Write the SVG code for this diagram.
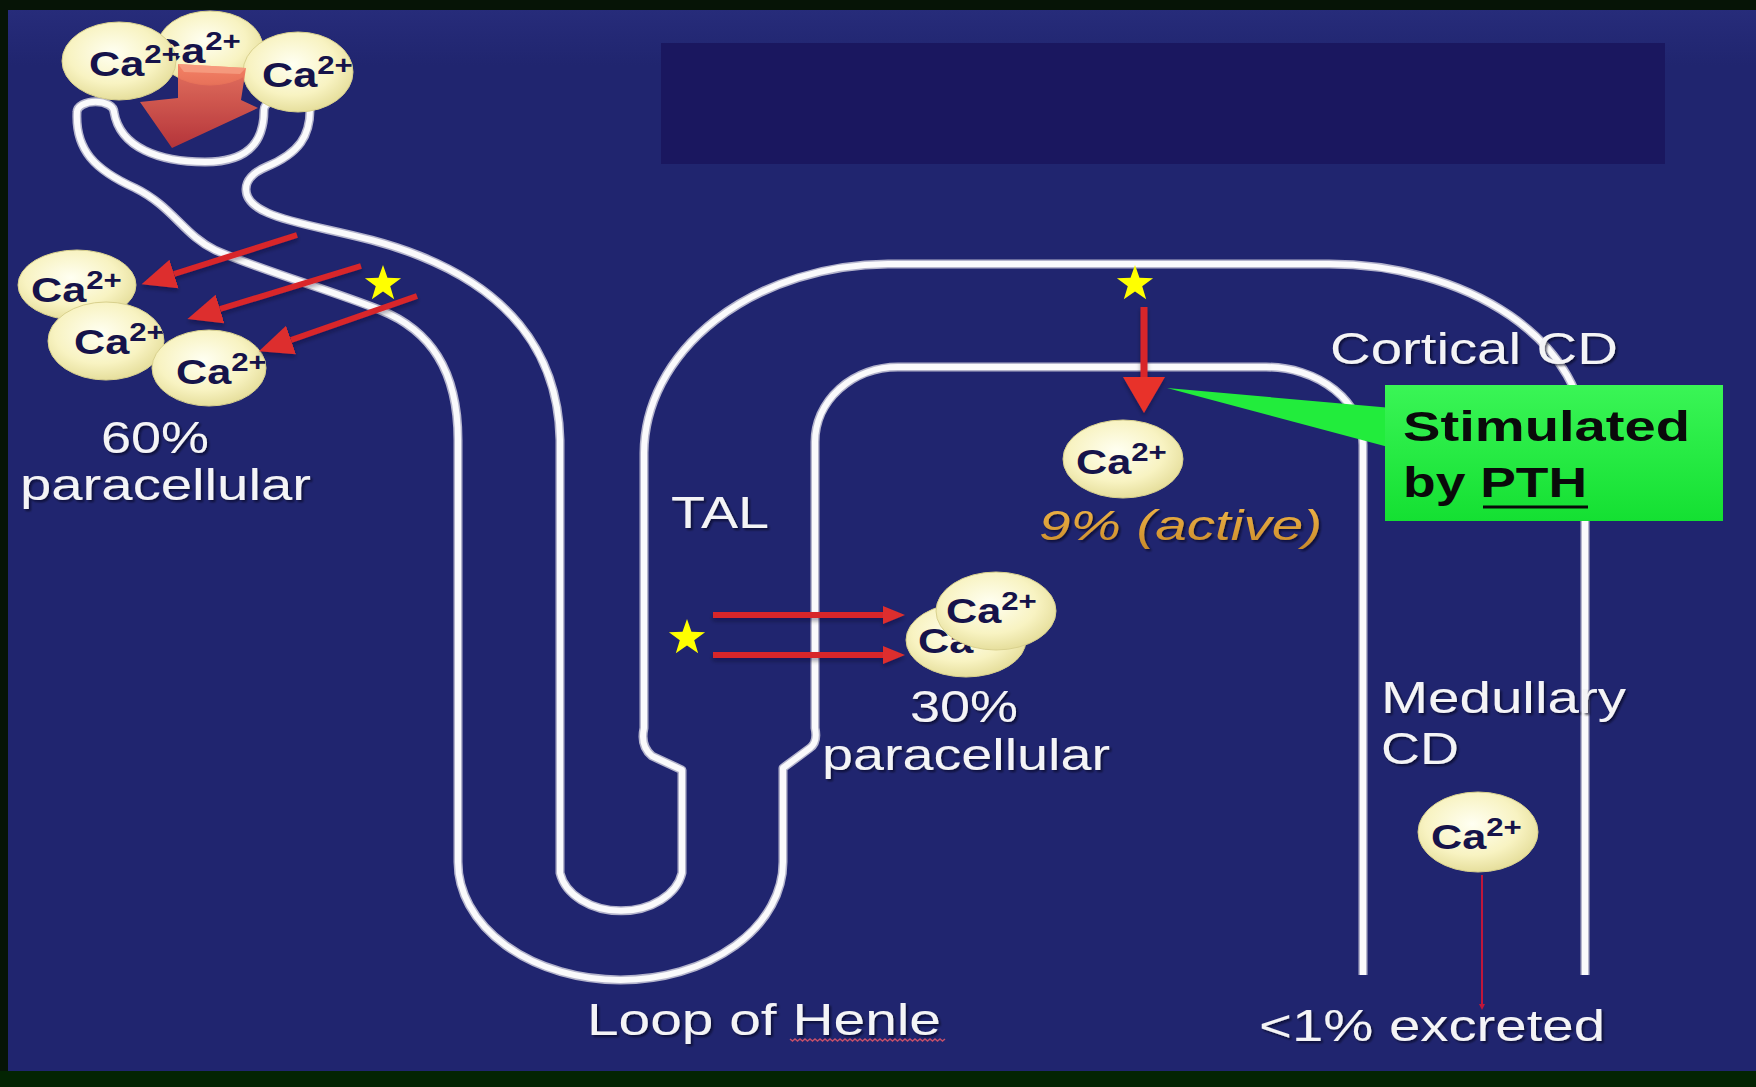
<svg xmlns="http://www.w3.org/2000/svg" width="1756" height="1087" viewBox="0 0 1756 1087">
  <defs>
    <style>
      .tube-edge { fill: none; stroke: #b4b4cc; stroke-width: 9; stroke-linejoin: round; }
      .tube { fill: none; stroke: #fafafc; stroke-width: 6; stroke-linejoin: round; }
      .ion { fill: url(#ionFill); stroke: #d9d18e; stroke-width: 1; }
      .ca { font-family: "Liberation Sans", Arial, sans-serif; font-weight: bold; font-size: 36px; fill: #16134a; }
      .sup { font-size: 26px; }
      .lbl { font-family: "Liberation Sans", Arial, sans-serif; font-size: 44px; fill: #f4f4f6; filter: url(#txtShadow); }
      .active { font-family: "Liberation Sans", Arial, sans-serif; font-style: italic; font-size: 43px; fill: url(#goldFill); filter: url(#txtShadow); }
      .pth { font-family: "Liberation Sans", Arial, sans-serif; font-weight: bold; font-size: 42px; fill: #0a0a0a; }
      .shaft { stroke: #d8262a; fill: none; stroke-linecap: butt; }
      .star { fill: #ffff00; }
    </style>
    <radialGradient id="ionFill" cx="0.45" cy="0.4" r="0.65">
      <stop offset="0" stop-color="#fffff2"/>
      <stop offset="0.6" stop-color="#f8f3c2"/>
      <stop offset="1" stop-color="#e2da94"/>
    </radialGradient>
    <linearGradient id="goldFill" x1="0" y1="0" x2="0" y2="1">
      <stop offset="0" stop-color="#f2b84a"/>
      <stop offset="1" stop-color="#c98a2a"/>
    </linearGradient>
    <linearGradient id="greenFill" x1="0" y1="0" x2="0" y2="1">
      <stop offset="0" stop-color="#3af556"/>
      <stop offset="1" stop-color="#14e032"/>
    </linearGradient>
    <linearGradient id="blockArrow" x1="0" y1="0" x2="0" y2="1">
      <stop offset="0" stop-color="#f4795e"/>
      <stop offset="1" stop-color="#c23636"/>
    </linearGradient>
    <linearGradient id="bg" x1="0" y1="0" x2="0" y2="1">
      <stop offset="0" stop-color="#282d7c"/>
      <stop offset="0.06" stop-color="#20256f"/>
      <stop offset="1" stop-color="#20256f"/>
    </linearGradient>
    <filter id="txtShadow" x="-5%" y="-10%" width="110%" height="130%">
      <feDropShadow dx="2" dy="2" stdDeviation="1" flood-color="#000010" flood-opacity="0.6"/>
    </filter>
    <filter id="arrowShadow" filterUnits="userSpaceOnUse" x="0" y="0" width="1756" height="1087">
      <feDropShadow dx="0" dy="3" stdDeviation="2" flood-color="#000020" flood-opacity="0.35"/>
    </filter>
    <marker id="headL" markerUnits="userSpaceOnUse" markerWidth="36" markerHeight="32" viewBox="0 -16 36 32" refX="0" refY="0" orient="auto">
      <path d="M0 -15 L34 0 L0 15 Z" fill="#dd2e2e"/>
    </marker>
    <marker id="headS" markerUnits="userSpaceOnUse" markerWidth="24" markerHeight="20" viewBox="0 -10 24 20" refX="0" refY="0" orient="auto">
      <path d="M0 -9 L22 0 L0 9 Z" fill="#dd2e2e"/>
    </marker>
    <marker id="headV" markerUnits="userSpaceOnUse" markerWidth="38" markerHeight="44" viewBox="0 -22 38 44" refX="0" refY="0" orient="auto">
      <path d="M0 -21 L36 0 L0 21 Z" fill="#e8322c"/>
    </marker>
    <marker id="headT" markerUnits="userSpaceOnUse" markerWidth="8" markerHeight="8" viewBox="0 -4 8 8" refX="0" refY="0" orient="auto">
      <path d="M0 -3 L6 0 L0 3 Z" fill="#c0163a"/>
    </marker>
    <polygon id="starShape" points="0,-19 4.47,-6.15 18.07,-5.87 7.23,2.35 11.17,15.37 0,7.6 -11.17,15.37 -7.23,2.35 -18.07,-5.87 -4.47,-6.15"/>
    <!-- nephron wall: one continuous line from the cortical CD back round to the medullary CD -->
    <path id="tubulePath" d="M1585 975 V440 A256 176 0 0 0 1329 264 H888 A246 190 0 0 0 644 453 V728 Q640 746 652 756 L682 770 V873 A62 46 0 0 1 560 873 V440 C558 345 500 288 420 256 C360 232 302 228 268 213 C238 200 240 178 266 167 C300 153 310 135 310 110 A23 12 0 0 0 264 110 C264 145 245 162 205 162 C160 162 120 148 114 112 A18 10 0 0 0 77 112 C75 150 95 170 135 188 C172 206 185 236 215 250 C260 270 330 290 380 310 C430 330 458 370 458 440 V862 A162.5 118 0 0 0 783 862 V768 L810 748 Q818 742 815 728 V442 A83 75 0 0 1 898 367 H1266 A97 78 0 0 1 1363 445 V975"/>
    <clipPath id="clipE3"><ellipse cx="298" cy="72" rx="55" ry="40"/></clipPath>
    <clipPath id="clipP2"><ellipse cx="106" cy="341" rx="58" ry="39"/></clipPath>
    <clipPath id="clipP3"><ellipse cx="209" cy="368" rx="57" ry="38"/></clipPath>
  </defs>

  <!-- slide background and frame -->
  <rect x="0" y="0" width="1756" height="1087" fill="url(#bg)"/>
  <rect x="0" y="0" width="1756" height="10" fill="#061406"/>
  <rect x="0" y="0" width="8" height="1087" fill="#061406"/>
  <rect x="0" y="1071" width="1756" height="16" fill="#032403"/>
  <rect x="661" y="43" width="1004" height="121" fill="#1a175f"/>

  <g id="tubule">
    <use href="#tubulePath" class="tube-edge"/>
    <use href="#tubulePath" class="tube"/>
  </g>

  <!-- glomerular filtrate -->
  <g id="ion-glom-2">
    <ellipse class="ion" cx="210" cy="48" rx="53" ry="37"/>
    <text class="ca" transform="translate(150 63) scale(1.2 1)">Ca<tspan class="sup" dy="-13">2+</tspan></text>
  </g>
  <g id="ion-glom-1">
    <ellipse class="ion" cx="119" cy="61" rx="57" ry="39"/>
    <text class="ca" transform="translate(89 76) scale(1.2 1)">Ca<tspan class="sup" dy="-13">2+</tspan></text>
  </g>
  <g id="ion-glom-3">
    <ellipse class="ion" cx="298" cy="72" rx="55" ry="40"/>
    <g clip-path="url(#clipE3)">
      <text class="ca" transform="translate(262 87) scale(1.2 1)">Ca<tspan class="sup" dy="-13">2+</tspan></text>
    </g>
  </g>
  <g id="filtration-arrow" opacity="0.92">
    <polygon points="178,64 246,68 241,100 258,108 172,148 140,102 178,98" fill="url(#blockArrow)"/>
    <polygon points="178,64 246,68 240,74 184,72" fill="#f79a80" opacity="0.8"/>
  </g>

  <!-- proximal tubule reabsorption -->
  <g id="ion-pct-1">
    <ellipse class="ion" cx="77" cy="285" rx="59" ry="35"/>
    <text class="ca" transform="translate(31 302) scale(1.2 1)">Ca<tspan class="sup" dy="-13">2+</tspan></text>
  </g>
  <g id="ion-pct-2">
    <ellipse class="ion" cx="106" cy="341" rx="58" ry="39"/>
    <g clip-path="url(#clipP2)">
      <text class="ca" transform="translate(74 354) scale(1.2 1)">Ca<tspan class="sup" dy="-13">2+</tspan></text>
    </g>
  </g>
  <g id="ion-pct-3">
    <ellipse class="ion" cx="209" cy="368" rx="57" ry="38"/>
    <g clip-path="url(#clipP3)">
      <text class="ca" transform="translate(176 384) scale(1.2 1)">Ca<tspan class="sup" dy="-13">2+</tspan></text>
    </g>
  </g>
  <g id="label-pct">
    <text class="lbl" x="101" y="453" textLength="108" lengthAdjust="spacingAndGlyphs">60%</text>
    <text class="lbl" x="20" y="500" textLength="291" lengthAdjust="spacingAndGlyphs">paracellular</text>
  </g>

  <!-- thick ascending limb -->
  <g id="label-tal">
    <text class="lbl" x="671" y="528" textLength="98" lengthAdjust="spacingAndGlyphs">TAL</text>
  </g>
  <g id="ion-tal-1">
    <ellipse class="ion" cx="966" cy="640" rx="60" ry="37"/>
    <text class="ca" transform="translate(918 653) scale(1.2 1)">Ca<tspan class="sup" dy="-13">2+</tspan></text>
  </g>
  <g id="ion-tal-2">
    <ellipse class="ion" cx="996" cy="611" rx="60" ry="39"/>
    <text class="ca" transform="translate(946 623) scale(1.2 1)">Ca<tspan class="sup" dy="-13">2+</tspan></text>
  </g>
  <g id="label-tal-share">
    <text class="lbl" x="910" y="722" textLength="108" lengthAdjust="spacingAndGlyphs">30%</text>
    <text class="lbl" x="822" y="770" textLength="288" lengthAdjust="spacingAndGlyphs">paracellular</text>
  </g>

  <!-- distal / collecting duct -->
  <g id="label-cortical">
    <text class="lbl" x="1330" y="364" textLength="288" lengthAdjust="spacingAndGlyphs">Cortical CD</text>
  </g>
  <g id="ion-dct">
    <ellipse class="ion" cx="1123" cy="459" rx="60" ry="39"/>
    <text class="ca" transform="translate(1076 474) scale(1.2 1)">Ca<tspan class="sup" dy="-13">2+</tspan></text>
  </g>
  <g id="label-active">
    <text class="active" x="1039" y="540" textLength="283" lengthAdjust="spacingAndGlyphs">9% (active)</text>
  </g>
  <g id="label-medullary">
    <text class="lbl" x="1381" y="713" textLength="245" lengthAdjust="spacingAndGlyphs">Medullary</text>
    <text class="lbl" x="1381" y="764" textLength="78" lengthAdjust="spacingAndGlyphs">CD</text>
  </g>
  <g id="ion-urine">
    <ellipse class="ion" cx="1478" cy="832" rx="60" ry="40"/>
    <text class="ca" transform="translate(1431 849) scale(1.2 1)">Ca<tspan class="sup" dy="-13">2+</tspan></text>
  </g>
  <g id="label-excreted">
    <text class="lbl" x="1259" y="1041" textLength="346" lengthAdjust="spacingAndGlyphs">&lt;1% excreted</text>
  </g>
  <g id="label-loop">
    <text class="lbl" x="587" y="1035" textLength="354" lengthAdjust="spacingAndGlyphs">Loop of Henle</text>
    <!-- spell-check squiggle under "Henle" -->
    <path d="M790 1039 l2.5 2 l2.5 -2 l2.5 2 l2.5 -2 l2.5 2 l2.5 -2 l2.5 2 l2.5 -2 l2.5 2 l2.5 -2 l2.5 2 l2.5 -2 l2.5 2 l2.5 -2 l2.5 2 l2.5 -2 l2.5 2 l2.5 -2 l2.5 2 l2.5 -2 l2.5 2 l2.5 -2 l2.5 2 l2.5 -2 l2.5 2 l2.5 -2 l2.5 2 l2.5 -2 l2.5 2 l2.5 -2 l2.5 2 l2.5 -2 l2.5 2 l2.5 -2 l2.5 2 l2.5 -2 l2.5 2 l2.5 -2 l2.5 2 l2.5 -2 l2.5 2 l2.5 -2 l2.5 2 l2.5 -2 l2.5 2 l2.5 -2 l2.5 2 l2.5 -2 l2.5 2 l2.5 -2 l2.5 2 l2.5 -2 l2.5 2 l2.5 -2 l2.5 2 l2.5 -2 l2.5 2 l2.5 -2 l2.5 2 l2.5 -2 l2.5 2 l2.5 -2" fill="none" stroke="#c4506a" stroke-width="1.5"/>
  </g>

  <!-- PTH callout -->
  <g id="callout-pth">
    <polygon points="1167,388 1392,408 1392,448" fill="#22ec3c"/>
    <rect x="1385" y="385" width="338" height="136" fill="url(#greenFill)"/>
    <text class="pth" x="1403" y="441" textLength="287" lengthAdjust="spacingAndGlyphs">Stimulated</text>
    <text class="pth" x="1403" y="497" textLength="184" lengthAdjust="spacingAndGlyphs">by PTH</text>
    <line x1="1483" y1="507" x2="1588" y2="507" stroke="#0a0a0a" stroke-width="3"/>
  </g>

  <!-- transport arrows -->
  <g id="connectors" filter="url(#arrowShadow)">
    <line class="shaft" x1="297" y1="235" x2="174" y2="274" stroke-width="6" marker-end="url(#headL)"/>
    <line class="shaft" x1="361" y1="266" x2="220" y2="309" stroke-width="6" marker-end="url(#headL)"/>
    <line class="shaft" x1="417" y1="296" x2="291" y2="340" stroke-width="6" marker-end="url(#headL)"/>
    <line class="shaft" x1="713" y1="615" x2="883" y2="615" stroke-width="6" marker-end="url(#headS)"/>
    <line class="shaft" x1="713" y1="655" x2="883" y2="655" stroke-width="6" marker-end="url(#headS)"/>
    <line class="shaft" x1="1144" y1="307" x2="1144" y2="377" stroke-width="7" marker-end="url(#headV)"/>
  </g>
  <g id="excretion-connector">
    <line x1="1482" y1="875" x2="1482" y2="1004" stroke="#c0163a" stroke-width="2" marker-end="url(#headT)"/>
  </g>

  <!-- sites of regulation -->
  <g id="stars">
    <use href="#starShape" class="star" x="383" y="284"/>
    <use href="#starShape" class="star" x="687" y="638"/>
    <use href="#starShape" class="star" x="1135" y="284"/>
  </g>
</svg>
